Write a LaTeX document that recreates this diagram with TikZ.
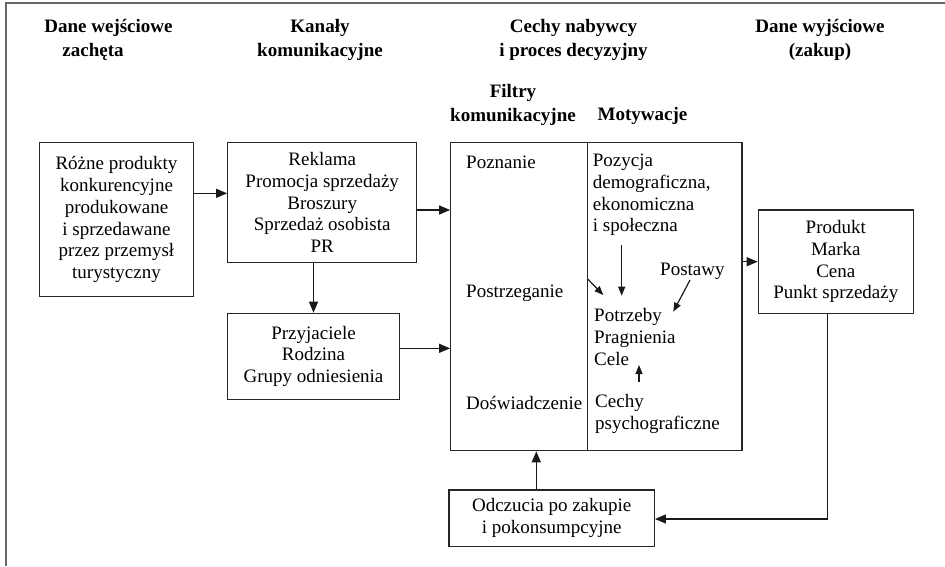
\documentclass[tikz,border=0pt]{standalone}
\usepackage{fontspec}
\setmainfont{Liberation Serif}
\usetikzlibrary{arrows.meta}

\newcommand\txtsize{\fontsize{19}{21.8}\selectfont}
\newcommand\headsize{\fontsize{19}{23.4}\selectfont\bfseries}

\tikzset{
  box/.style={draw=black!85, line width=1.2pt, align=center, inner sep=0pt, font=\txtsize},
  lbl/.style={align=left, inner sep=0pt, anchor=west, font=\txtsize},
  head/.style={align=center, inner sep=0pt, font=\headsize},
  arr/.style={draw=black!90, line width=1.2pt, -{Triangle[length=11pt,width=9pt]}},
  sarr/.style={draw=black!90, line width=1.2pt, -{Triangle[length=9pt,width=7pt]}},
  frame/.style={draw=black!60, line width=2pt},
}

\begin{document}
\begin{tikzpicture}[x=1pt,y=-1pt]
\useasboundingbox (0,0) rectangle (945,566);

% outer frame (left and top edges)
\draw[frame] (6,566) -- (6,2.7) -- (945,2.7);

% column headings
\node[head] (h1a) at (108.5,28.3) {Dane wejściowe};
\node[head] (h1b) at (93,51.7) {zachęta};
\node[head] (h2) at (320,40) {Kanały\\komunikacyjne};
\node[head] (h3) at (573.5,40) {Cechy nabywcy\\i proces decyzyjny};
\node[head] (h4) at (820,40) {Dane wyjściowe\\(zakup)};
\node[head] (h5) at (513,105) {Filtry\\komunikacyjne};
\node[head] (h6) at (642.5,116) {Motywacje};

% boxes
\node[box, minimum width=154.4pt, minimum height=154pt] (inp) at (116.5,219.7)
  {Różne produkty\\konkurencyjne\\produkowane\\i sprzedawane\\przez przemysł\\turystyczny};
\node[box, minimum width=189pt, minimum height=119.6pt] (chan) at (322.2,202.5)
  {Reklama\\Promocja sprzedaży\\Broszury\\Sprzedaż osobista\\PR};
\node[box, minimum width=171.6pt, minimum height=86pt] (friends) at (313.5,356.3)
  {Przyjaciele\\Rodzina\\Grupy odniesienia};
\node[box, minimum width=291.3pt, minimum height=308pt] (big) at (596.35,296.7) {};
\node[box, minimum width=155pt, minimum height=103.3pt] (out) at (835.8,261.7)
  {Produkt\\Marka\\Cena\\Punkt sprzedaży};
\node[box, minimum width=205.3pt, minimum height=56.7pt] (post) at (551.7,518.3)
  {Odczucia po zakupie\\i pokonsumpcyjne};

% divider between filters and motivations
\coordinate (divtop) at (587.7,142.7);
\coordinate (divbot) at (587.7,450.7);
\draw[black!85, line width=1.2pt] (divtop) -- (divbot);

% filters column
\node[lbl] (pozn) at (466,162.7) {Poznanie};
\node[lbl] (postrz) at (466,293.3) {Postrzeganie};
\node[lbl] (dosw) at (466,403.3) {Doświadczenie};

% motivations column
\node[lbl] (pozycja) at (592.7,195) {Pozycja\\demograficzna,\\ekonomiczna\\i społeczna};
\node[lbl] (postawy) at (660,271.7) {Postawy};
\node[lbl] (potrzeby) at (594,336.7) {Potrzeby\\Pragnienia\\Cele};
\node[lbl] (cechy) at (595,414.2) {Cechy\\psychograficzne};

% main flow
\draw[arr] (inp.east |- 0,193.3) -- (chan.west |- 0,193.3);
\draw[arr] (chan.east |- 0,210) -- (big.west |- 0,210);
\draw[arr] (friends.north |- chan.south) -- (friends.north);
\draw[arr] (friends.east |- 0,348.3) -- (big.west |- 0,348.3);
\draw[arr] (big.east |- out.west) -- (out.west);
\coordinate (outdrop) at (827.3,313.3);
\draw[arr] (outdrop) |- (post.east |- 0,519);
\draw[arr] (536.3,490) coordinate (postup) -- (postup |- big.south);

% arrows inside the motivations column
\coordinate (a1s) at (587.7,279);
\coordinate (a1e) at (603.3,295);
\draw[sarr] (a1s) -- (a1e);
\coordinate (a2s) at (621.7,245);
\coordinate (a2e) at (621.7,295.7);
\draw[sarr] (a2s) -- (a2e);
\coordinate (a3s) at (690,280);
\coordinate (a3e) at (673.3,311.7);
\draw[sarr] (a3s) -- (a3e);
\coordinate (a4s) at (639,382.3);
\coordinate (a4e) at (639,365);
\draw[sarr] (a4s) -- (a4e);
\end{tikzpicture}
\end{document}
